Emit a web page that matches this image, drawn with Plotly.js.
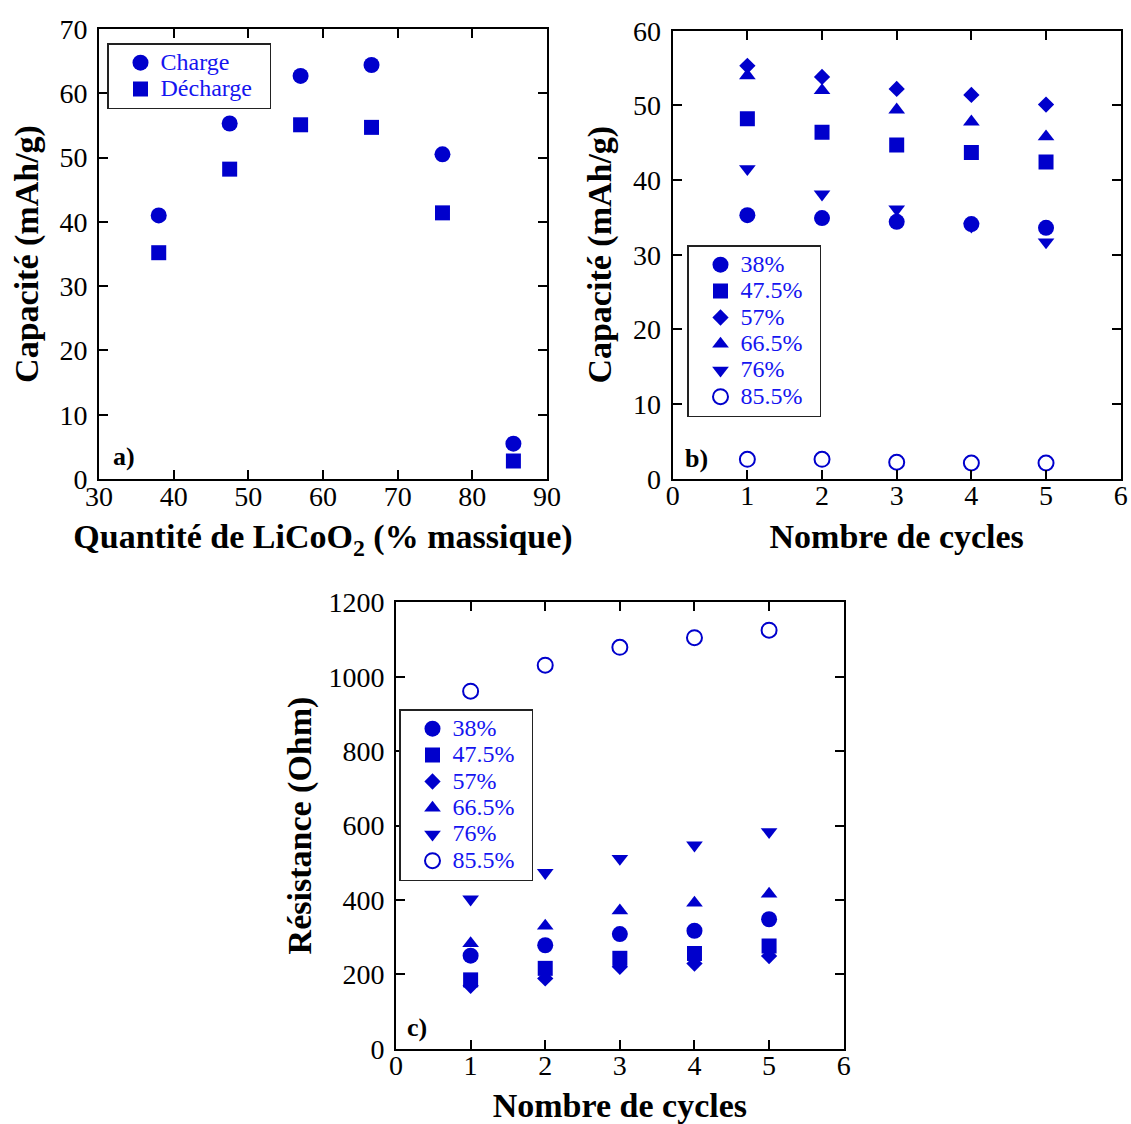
<!DOCTYPE html>
<html>
<head>
<meta charset="utf-8">
<script src="https://cdn.plot.ly/plotly-3.0.1.min.js"></script>
<style>html,body{margin:0;padding:0;background:#fff;}#chart{width:1131px;height:1124px;}</style>
</head>
<body>
<div id="chart"></div>
<script>
// ---- Data ----
const pctLiCoO2 = [38, 47.5, 57, 66.5, 76, 85.5];
const chargeCap = [41.0, 55.3, 62.7, 64.4, 50.5, 5.5];
const dechargeCap = [35.2, 48.2, 55.1, 54.7, 41.4, 2.8];

const cycles = [1, 2, 3, 4, 5];
const seriesNames = ['38%', '47.5%', '57%', '66.5%', '76%', '85.5%'];
const cap38 = [35.3, 34.9, 34.4, 34.1, 33.6];
const cap475 = [48.2, 46.4, 44.7, 43.7, 42.4];
const cap57 = [55.3, 53.8, 52.2, 51.4, 50.1];
const cap665 = [54.0, 52.0, 49.4, 47.8, 45.8];
const cap76 = [41.5, 38.1, 36.1, 33.8, 31.7];
const cap855 = [2.6, 2.6, 2.2, 2.1, 2.1];

const res38 = [250, 278, 308, 317, 348];
const res475 = [185, 216, 243, 256, 276];
const res57 = [169, 189, 220, 229, 249];
const res665 = [283, 330, 371, 392, 416];
const res76 = [402, 473, 511, 547, 583];
const res855 = [961, 1031, 1079, 1105, 1125];

// ---- Styles ----
const BLUE = '#0000CC';
const TXTBLUE = '#1515F0';
const SERIF = 'Liberation Serif, Times New Roman, serif';
const symbols = ['circle', 'square', 'diamond', 'triangle-up', 'triangle-down', 'circle-open'];
const sizes = [16, 15, 12.5, 14.5, 14.5, 15];

function lname(t) { return '<span style="font-size:24px">' + t + '\u00a0\u00a0</span>'; }

const traces = [];
traces.push({x: pctLiCoO2, y: chargeCap, name: lname('Charge'), type: 'scatter', mode: 'markers',
  marker: {symbol: 'circle', size: 16, color: BLUE}, xaxis: 'x', yaxis: 'y', legend: 'legend'});
traces.push({x: pctLiCoO2, y: dechargeCap, name: lname('Décharge'), type: 'scatter', mode: 'markers',
  marker: {symbol: 'square', size: 15, color: BLUE}, xaxis: 'x', yaxis: 'y', legend: 'legend'});

const capSeries = [cap38, cap475, cap57, cap665, cap76, cap855];
const resSeries = [res38, res475, res57, res665, res76, res855];
capSeries.forEach((ys, i) => {
  traces.push({x: cycles, y: ys, name: lname(seriesNames[i]), type: 'scatter', mode: 'markers',
    marker: {symbol: symbols[i], size: sizes[i], color: BLUE, line: {color: BLUE, width: symbols[i] === 'circle-open' ? 2 : 0}},
    xaxis: 'x2', yaxis: 'y2', legend: 'legend2'});
});
resSeries.forEach((ys, i) => {
  traces.push({x: cycles, y: ys, name: lname(seriesNames[i]), type: 'scatter', mode: 'markers',
    marker: {symbol: symbols[i], size: sizes[i], color: BLUE, line: {color: BLUE, width: symbols[i] === 'circle-open' ? 2 : 0}},
    xaxis: 'x3', yaxis: 'y3', legend: 'legend3'});
});

const W = 1131, H = 1124;
function axisBase(extra) {
  return Object.assign({
    showline: true, linecolor: '#000', linewidth: 2, mirror: 'ticks',
    ticks: 'inside', ticklen: 9, tickwidth: 2, tickcolor: '#000',
    showgrid: false, zeroline: false,
    tickfont: {family: SERIF, size: 28, color: '#000'},
    fixedrange: true
  }, extra);
}
const titleFont = {family: SERIF, size: 34, color: '#000', weight: 'bold'};

function legendBox(x, y) {
  return {x: x / W, y: 1 - y / H, xanchor: 'left', yanchor: 'top', bgcolor: '#fff',
    bordercolor: '#222', borderwidth: 1.5, font: {family: SERIF, size: 18, color: TXTBLUE},
    indentation: 12, itemclick: false, tracegroupgap: 0};
}

const layout = {
  width: W, height: H, margin: {l: 0, r: 0, t: 0, b: 0},
  paper_bgcolor: '#fff', plot_bgcolor: '#fff', showlegend: true,
  xaxis: axisBase({domain: [99 / W, 547 / W], range: [30, 90], dtick: 10, anchor: 'y', ticklabelstandoff: -9,
    title: {text: '<b>Quantité de LiCoO<sub>2</sub> (% massique)</b>', font: titleFont, standoff: 14}}),
  yaxis: axisBase({domain: [1 - 479 / H, 1 - 29 / H], range: [0, 70], dtick: 10, anchor: 'x', ticklabelstandoff: 4,
    title: {text: '<b>Capacité (mAh/g)</b>', font: titleFont, standoff: 11}}),
  xaxis2: axisBase({domain: [672.7 / W, 1120.7 / W], range: [0, 6], dtick: 1, anchor: 'y2', ticklabelstandoff: -9,
    title: {text: '<b>Nombre de cycles</b>', font: titleFont, standoff: 14}}),
  yaxis2: axisBase({domain: [1 - 478.7 / H, 1 - 30.7 / H], range: [0, 60], dtick: 10, anchor: 'x2', ticklabelstandoff: 4,
    title: {text: '<b>Capacité (mAh/g)</b>', font: titleFont, standoff: 11}}),
  xaxis3: axisBase({domain: [396 / W, 843.7 / W], range: [0, 6], dtick: 1, anchor: 'y3', ticklabelstandoff: -9,
    title: {text: '<b>Nombre de cycles</b>', font: titleFont, standoff: 14}}),
  yaxis3: axisBase({domain: [1 - 1048.7 / H, 1 - 602.3 / H], range: [0, 1200], dtick: 200, anchor: 'x3', ticklabelstandoff: 4,
    title: {text: '<b>Résistance (Ohm)</b>', font: titleFont, standoff: 7}}),
  legend: legendBox(107, 43),
  legend2: legendBox(687, 245),
  legend3: legendBox(399, 709),
  annotations: [
    {text: '<b>a)</b>', x: 124 / W, y: 1 - 457 / H, xref: 'paper', yref: 'paper', showarrow: false,
      xanchor: 'center', yanchor: 'middle', font: {family: SERIF, size: 26, color: '#000'}},
    {text: '<b>b)</b>', x: 696 / W, y: 1 - 458 / H, xref: 'paper', yref: 'paper', showarrow: false,
      xanchor: 'center', yanchor: 'middle', font: {family: SERIF, size: 26, color: '#000'}},
    {text: '<b>c)</b>', x: 417 / W, y: 1 - 1027 / H, xref: 'paper', yref: 'paper', showarrow: false,
      xanchor: 'center', yanchor: 'middle', font: {family: SERIF, size: 26, color: '#000'}}
  ]
};

Plotly.newPlot('chart', traces, layout, {staticPlot: true, displayModeBar: false});
</script>
</body>
</html>
